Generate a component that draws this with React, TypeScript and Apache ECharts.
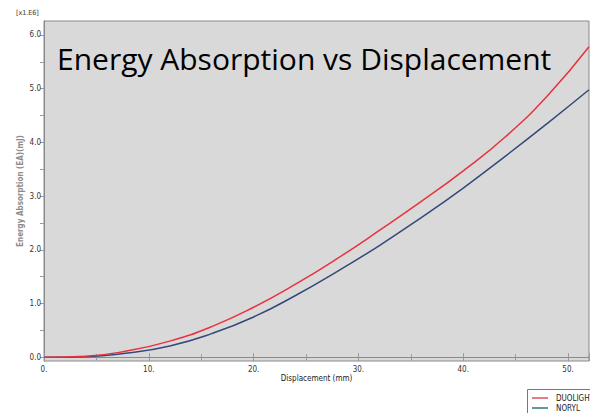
import React, { useEffect, useRef } from "react";
import * as echarts from "echarts";

// Displacement (mm)
const displacement = [0, 4, 8, 12, 16, 20, 24, 28, 32, 36, 40, 44, 48, 52];
// Energy absorption, in units of 1e6 mJ
const duolight = [0, 0.02, 0.12, 0.3, 0.57, 0.93, 1.36, 1.84, 2.36, 2.9, 3.47, 4.1, 4.86, 5.78];
const noryl = [0, 0.01, 0.08, 0.21, 0.44, 0.75, 1.15, 1.6, 2.08, 2.6, 3.15, 3.74, 4.35, 4.98];

const seriesNames = ["DUOLIGHT", "NORYL"];
const seriesColors = ["#e8323f", "#34497a"];
const legendColors = ["#e0505e", "#2e7478"];
const yTickValues = [0, 0.5, 1, 1.5, 2, 2.5, 3, 3.5, 4, 4.5, 5, 5.5, 6];
const yLabelValues = [0, 1, 2, 3, 4, 5, 6];
const titleText = "Energy Absorption vs Displacement";
const xName = "Displacement (mm)";
const yName = "Energy Absorption (EA)(mJ)";
const yScaleNote = "[x1.E6]";

const tickFont = "'DejaVu Sans Condensed', 'DejaVu Sans', sans-serif";

export default function App() {
  const ref = useRef<HTMLDivElement>(null);

  useEffect(() => {
    if (!ref.current) return;
    const chart = echarts.init(ref.current, undefined, { renderer: "svg" });
    const pairs = (ys: number[]) => displacement.map((x, i) => [x, ys[i]]);

    // legend box in the lower-right corner
    const legendX = 527;
    const legendY = 389;
    const legendItems = seriesNames.flatMap((name, i) => [
      {
        type: "line",
        shape: { x1: legendX + 5, y1: legendY + 9 + i * 10, x2: legendX + 21, y2: legendY + 9 + i * 10 },
        style: { stroke: legendColors[i], lineWidth: 1.5 },
        z: 10,
      },
      {
        type: "text",
        x: legendX + 29,
        y: legendY + 9 + i * 10,
        style: {
          text: name,
          font: `8px ${tickFont}`,
          fill: "#222",
          verticalAlign: "middle",
        },
        z: 10,
      },
    ]);

    chart.setOption({
      animation: false,
      backgroundColor: "#ffffff",
      grid: {
        left: 44,
        right: 1,
        top: 21,
        bottom: 52,
        show: true,
        backgroundColor: "#d9d9d9",
        borderColor: "#8a8a8a",
        borderWidth: 1,
      },
      title: {
        text: titleText,
        left: 57,
        top: 43,
        padding: 0,
        textStyle: {
          fontFamily: "'Open Sans', sans-serif",
          fontWeight: "normal",
          fontSize: 30,
          color: "#000000",
        },
      },
      graphic: [
        {
          type: "text",
          left: 16,
          top: 9,
          style: {
            text: yScaleNote,
            font: `7px ${tickFont}`,
            fill: "#333",
          },
        },
        {
          type: "rect",
          shape: { x: legendX + 0.5, y: legendY + 0.5, width: 80, height: 40 },
          style: { fill: "#ffffff", stroke: "#777", lineWidth: 1 },
          z: 9,
        },
        ...legendItems,
      ],
      xAxis: [
        {
          type: "value",
          min: 0,
          max: 52,
          interval: 10,
          name: xName,
          nameLocation: "middle",
          nameGap: 13,
          nameMoveOverlap: false,
          nameTextStyle: { fontFamily: tickFont, fontSize: 8, color: "#222" },
          axisLine: { show: true, lineStyle: { color: "#8a8a8a" } },
          axisTick: { show: true, inside: true, length: 4, lineStyle: { color: "#999" } },
          minorTick: { show: true, splitNumber: 2, length: 3, lineStyle: { color: "#999" } },
          splitLine: { show: false },
          axisLabel: {
            fontFamily: tickFont,
            fontSize: 8,
            color: "#333",
            margin: 4,
            showMaxLabel: false,
            formatter: (v: number) => `${v}.`,
          },
        },
        {
          type: "value",
          position: "top",
          min: 0,
          max: 52,
          interval: 10,
          axisLine: { show: true, lineStyle: { color: "#8a8a8a" } },
          axisTick: { show: true, inside: true, length: 4, lineStyle: { color: "#999" } },
          minorTick: { show: true, splitNumber: 2, length: 3, lineStyle: { color: "#999" } },
          splitLine: { show: false },
          axisLabel: { show: false },
        },
      ],
      yAxis: [
        {
          type: "value",
          min: -0.07,
          max: 6.26,
          name: yName,
          nameLocation: "middle",
          nameGap: 20,
          nameMoveOverlap: false,
          nameTextStyle: { fontFamily: tickFont, fontSize: 8, fontWeight: "bold", color: "#8c8c8c" },
          axisLine: { show: true, lineStyle: { color: "#8a8a8a" } },
          axisTick: {
            show: true,
            inside: false,
            length: 3,
            customValues: yTickValues,
            lineStyle: { color: "#777" },
          },
          splitLine: { show: false },
          axisLabel: {
            fontFamily: tickFont,
            fontSize: 8,
            color: "#333",
            margin: 3,
            customValues: yLabelValues,
            formatter: (v: number) => v.toFixed(1),
          },
        },
        {
          type: "value",
          position: "right",
          min: -0.07,
          max: 6.26,
          axisLine: { show: true, lineStyle: { color: "#8a8a8a" } },
          axisTick: {
            show: true,
            inside: true,
            length: 4,
            customValues: yTickValues,
            lineStyle: { color: "#999" },
          },
          splitLine: { show: false },
          axisLabel: { show: false },
        },
      ],
      series: [
        {
          name: seriesNames[0],
          type: "line",
          smooth: true,
          showSymbol: false,
          data: pairs(duolight),
          lineStyle: { color: seriesColors[0], width: 1.5 },
          itemStyle: { color: seriesColors[0] },
          z: 3,
        },
        {
          name: seriesNames[1],
          type: "line",
          smooth: true,
          showSymbol: false,
          data: pairs(noryl),
          lineStyle: { color: seriesColors[1], width: 1.5 },
          itemStyle: { color: seriesColors[1] },
          z: 2,
        },
      ],
    });

    return () => chart.dispose();
  }, []);

  return (
    <div
      ref={ref}
      style={{ position: "fixed", left: 0, top: 0, width: 590, height: 413 }}
    />
  );
}
